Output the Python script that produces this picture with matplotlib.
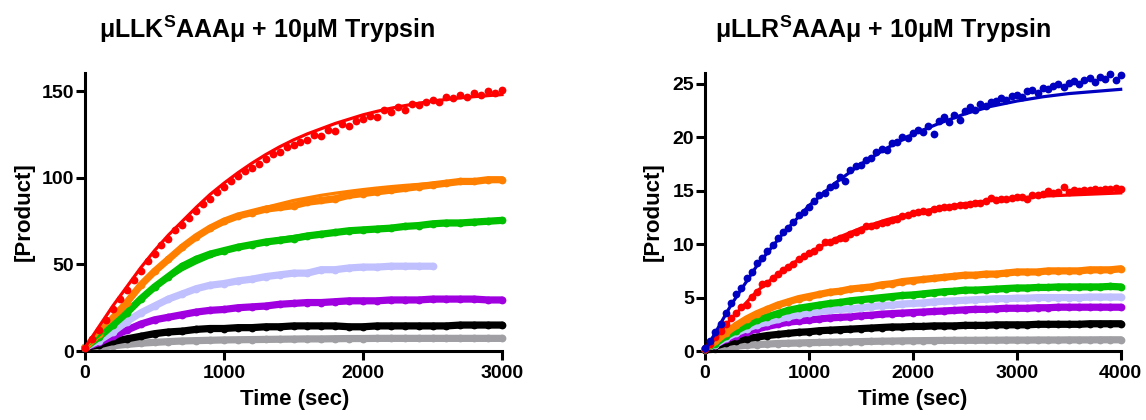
import matplotlib
matplotlib.use("Agg")
import matplotlib.pyplot as plt

plt.rcParams['font.family'] = ['Liberation Sans', 'DejaVu Sans']
plt.rcParams['font.weight'] = 'bold'
plt.rcParams['mathtext.fontset'] = 'custom'
plt.rcParams['mathtext.bf'] = 'Liberation Sans:bold'
plt.rcParams['mathtext.rm'] = 'Liberation Sans:bold'
plt.rcParams['mathtext.it'] = 'Liberation Sans:bold'

# ---------------- Left panel: muLLK^S AAAmu ----------------
left_title = r'$\mathbf{\mu LLK^{S}AAA\mu}$ + 10μM Trypsin'
left_t100 = list(range(0, 3001, 100))
left_t50 = list(range(0, 3001, 50))
left_t_lav = list(range(0, 2501, 100))

left_red = [2, 7, 12, 18, 24, 30, 35, 41, 46, 52, 56, 61, 65, 70, 73, 77, 81, 85, 88, 92,
            95, 98, 101, 104, 106, 108, 111, 114, 115, 118, 119, 121, 122, 125, 124, 128,
            127, 131, 130, 133, 134, 136, 135, 139, 138, 141, 139, 143, 142, 144, 145, 144,
            147, 146, 148, 147, 149, 148, 150, 149, 151]
left_red_fit = [2, 14, 26, 37, 48, 58, 67, 75, 83, 90.5, 97, 103, 108.5, 113.5, 118, 122,
                125.5, 128.5, 131.5, 134, 136.5, 138.5, 140.3, 141.8, 143.2, 144.4, 145.4,
                146.3, 147, 147.6, 148.2]

left_orange = [2, 10, 19, 28, 38, 46, 53, 60, 66, 71, 75, 78, 80, 82, 83, 84, 86, 87, 88,
               90, 91, 92, 93, 94, 95, 96, 97, 98, 98, 99, 99]
left_orange_fit = [2, 11, 20, 29, 38, 46, 53, 59.5, 65, 70, 74, 77.5, 80.5, 83, 85, 87,
                   88.5, 90, 91.2, 92.3, 93.3, 94.2, 95, 95.7, 96.3, 96.9, 97.4, 97.9, 98.3,
                   98.7, 99]

left_green = [2, 8, 15, 22, 30, 37, 43, 49, 53, 56, 58, 60, 61.5, 63, 64, 65, 66.5, 67.5,
              68.5, 69.5, 70, 70.5, 71, 72, 72.5, 73.5, 74, 74, 74.5, 75, 75.5]
left_green_fit = [2, 9, 16, 23, 30, 36.5, 42, 47, 51, 54.5, 57.5, 60, 62, 63.5, 65, 66.2,
                  67.3, 68.3, 69.2, 70, 70.7, 71.3, 71.9, 72.4, 72.9, 73.3, 73.7, 74, 74.3,
                  74.6, 74.8]

left_lav = [2, 6, 11, 17, 22, 26, 30, 33, 36, 38, 39, 40.5, 41.5, 43, 44, 45, 45, 47, 47,
            48, 48.5, 48.5, 49, 49, 49, 49]

left_purple = [2, 5, 8.5, 12, 15.5, 18, 19.5, 21, 22.5, 23.5, 24, 25, 25.5, 26, 27, 27.5,
               28, 28, 28.5, 29, 29, 29, 29.5, 29.5, 29.5, 30, 30, 30, 30, 29.5, 29.5]

left_black = [2, 3.5, 5.5, 7, 8.5, 10, 11, 11.5, 12.5, 13, 13, 13.5, 13.5, 14, 14, 14.5,
              14.5, 14.5, 14.5, 14, 14, 14.5, 14.5, 14.5, 14.5, 14.5, 14.5, 15, 15, 15, 15]

left_gray = [1.5, 2, 3, 3.8, 4.5, 5, 5.4, 5.8, 6, 6.2, 6.4, 6.5, 6.6, 6.7, 6.8, 6.9, 7, 7,
             7.1, 7.2, 7.2, 7.3, 7.3, 7.3, 7.3, 7.3, 7.3, 7.3, 7.3, 7.3, 7.3]

left_xticks = [0, 1000, 2000, 3000]
left_yticks = [0, 50, 100, 150]

# ---------------- Right panel: muLLR^S AAAmu ----------------
right_title = r'$\mathbf{\mu LLR^{S}AAA\mu}$ + 10μM Trypsin'
right_t100 = list(range(0, 4001, 100))
right_t50 = list(range(0, 4001, 50))
right_tfit = list(range(0, 4001, 250))

right_blue = [0.3, 0.9, 1.8, 2.5, 3.6, 4.5, 5.3, 5.9, 6.8, 7.4, 8.2, 8.7, 9.4, 9.9, 10.6,
              11.1, 11.5, 12.1, 12.7, 13.0, 13.5, 14.0, 14.6, 14.8, 15.4, 15.5, 16.3, 15.9,
              16.9, 17.3, 17.4, 17.9, 18.1, 18.6, 18.9, 18.8, 19.5, 19.6, 20.0, 19.9, 20.4,
              20.7, 20.5, 21.1, 20.3, 21.5, 21.9, 21.4, 22.1, 21.6, 22.5, 22.8, 22.6, 23.1,
              22.9, 23.3, 23.4, 23.7, 23.5, 23.9, 24.0, 23.8, 24.3, 24.4, 24.2, 24.6, 24.5,
              24.8, 25.0, 24.7, 25.1, 25.3, 25.0, 25.4, 25.6, 25.2, 25.7, 25.5, 25.9, 25.4, 25.8]
right_blue_fit = [0, 4.3, 8.0, 11.0, 13.6, 15.7, 17.5, 19.0, 20.3, 21.3, 22.2, 22.9, 23.4,
                  23.8, 24.1, 24.3, 24.5]

right_red = [0.2, 0.7, 1.3, 1.9, 2.5, 3.1, 3.6, 4.1, 4.3, 5.1, 5.5, 6.3, 6.4, 6.8, 7.2, 7.6,
             7.9, 8.1, 8.6, 8.9, 9.2, 9.4, 9.7, 10.2, 10.2, 10.4, 10.6, 10.6, 11.0, 11.1,
             11.3, 11.7, 11.7, 11.8, 12.0, 12.1, 12.3, 12.4, 12.6, 12.7, 12.9, 13.0, 13.1,
             13.0, 13.3, 13.4, 13.5, 13.5, 13.6, 13.7, 13.7, 13.8, 13.9, 13.9, 14.0, 14.3,
             14.1, 14.2, 14.2, 14.3, 14.4, 14.4, 14.2, 14.6, 14.6, 14.7, 15.0, 14.8, 14.9,
             15.4, 14.9, 15.1, 15.0, 15.1, 15.1, 15.2, 15.1, 15.2, 15.2, 15.3, 15.2]
right_red_fit = [0, 3.0, 5.6, 7.6, 9.2, 10.5, 11.5, 12.3, 12.9, 13.4, 13.8, 14.1, 14.3,
                 14.5, 14.6, 14.7, 14.8]

right_orange = [0.2, 0.9, 1.7, 2.4, 3.0, 3.5, 3.9, 4.3, 4.6, 4.9, 5.1, 5.3, 5.5, 5.6, 5.8,
                5.9, 6.0, 6.2, 6.3, 6.5, 6.6, 6.7, 6.8, 6.9, 7.0, 7.1, 7.1, 7.2, 7.2, 7.3,
                7.4, 7.4, 7.4, 7.5, 7.5, 7.5, 7.5, 7.6, 7.6, 7.6, 7.7]
right_green = [0.2, 0.7, 1.4, 1.9, 2.4, 2.9, 3.2, 3.5, 3.8, 4.0, 4.15, 4.3, 4.45, 4.55, 4.7,
               4.8, 4.9, 5.0, 5.1, 5.2, 5.25, 5.35, 5.45, 5.55, 5.6, 5.7, 5.7, 5.75, 5.8,
               5.85, 5.9, 5.9, 5.95, 5.95, 6.0, 6.0, 6.0, 6.0, 6.0, 6.05, 6.0]
right_lav = [0.2, 0.6, 1.2, 1.7, 2.1, 2.45, 2.7, 2.95, 3.2, 3.4, 3.55, 3.7, 3.8, 3.9, 3.95,
             4.05, 4.15, 4.25, 4.3, 4.4, 4.45, 4.5, 4.6, 4.65, 4.7, 4.75, 4.8, 4.85, 4.9,
             4.9, 4.95, 4.95, 5.0, 5.0, 5.0, 5.0, 5.0, 5.05, 5.05, 5.05, 5.05]
right_purple = [0.2, 0.6, 1.1, 1.45, 1.8, 2.05, 2.3, 2.5, 2.7, 2.8, 2.9, 3.0, 3.1, 3.15, 3.2,
                3.3, 3.35, 3.45, 3.5, 3.55, 3.6, 3.65, 3.7, 3.75, 3.8, 3.85, 3.9, 3.9, 3.95,
                4.0, 4.0, 4.0, 4.05, 4.05, 4.1, 4.1, 4.1, 4.1, 4.1, 4.1, 4.1]
right_black = [0.1, 0.45, 0.75, 0.95, 1.15, 1.3, 1.45, 1.55, 1.65, 1.75, 1.8, 1.9, 1.95,
               2.0, 2.05, 2.1, 2.15, 2.2, 2.25, 2.25, 2.3, 2.3, 2.35, 2.35, 2.35, 2.4, 2.4,
               2.4, 2.45, 2.45, 2.45, 2.45, 2.5, 2.5, 2.5, 2.5, 2.5, 2.55, 2.55, 2.55, 2.55]
right_gray = [0.05, 0.2, 0.35, 0.45, 0.55, 0.6, 0.65, 0.7, 0.72, 0.75, 0.78, 0.8, 0.82,
              0.84, 0.86, 0.88, 0.9, 0.92, 0.93, 0.95, 0.96, 0.97, 0.98, 0.99, 1.0, 1.0,
              1.0, 1.01, 1.01, 1.02, 1.02, 1.02, 1.03, 1.03, 1.03, 1.04, 1.04, 1.04, 1.05,
              1.05, 1.05]

right_xticks = [0, 1000, 2000, 3000, 4000]
right_yticks = [0, 5, 10, 15, 20, 25]

C = {'red': '#FF0000', 'orange': '#FF8000', 'green': '#00C000', 'lav': '#C0C0FF',
     'purple': '#A000E0', 'black': '#000000', 'gray': '#A0A0A4', 'blue': '#0000C0'}

W, H = 1146, 420
fig = plt.figure(figsize=(W / 100, H / 100), dpi=100)


def band(ax, t, v, col):
    ax.plot(t, v, '-', color=col, lw=5.2, solid_capstyle='round', clip_on=False, zorder=2)
    ax.plot(t, v, 'o', color=col, ms=5.6, mew=0, clip_on=False, zorder=2)


def dots(ax, t, v, col):
    ax.plot(t, v, 'o', color=col, ms=5.6, mew=0, clip_on=False, zorder=3)


def fit(ax, t, v, col):
    ax.plot(t, v, '-', color=col, lw=2.3, clip_on=False, zorder=3)


def style(ax, xlim, ylim, xt, yt):
    ax.set_xlim(*xlim)
    ax.set_ylim(*ylim)
    ax.set_xticks(xt)
    ax.set_yticks(yt)
    for s in ['top', 'right']:
        ax.spines[s].set_visible(False)
    for s in ['left', 'bottom']:
        ax.spines[s].set_linewidth(2.2)
    ax.tick_params(axis='both', direction='out', length=6.3, width=2.2, labelsize=14)
    ax.tick_params(axis='y', pad=1.5)
    ax.tick_params(axis='x', pad=4)
    for lab in ax.get_xticklabels() + ax.get_yticklabels():
        lab.set_fontweight('bold')


# Left axes
axL = fig.add_axes([85 / W, 1 - 351 / H, (502 - 85) / W, (351 - 73.3) / H])
band(axL, left_t100, left_gray, C['gray'])
band(axL, left_t100, left_black, C['black'])
band(axL, left_t100, left_purple, C['purple'])
band(axL, left_t_lav, left_lav, C['lav'])
band(axL, left_t100, left_green, C['green'])
fit(axL, left_t100, left_green_fit, C['green'])
band(axL, left_t100, left_orange, C['orange'])
fit(axL, left_t100, left_orange_fit, C['orange'])
dots(axL, left_t50, left_red, C['red'])
fit(axL, left_t100, left_red_fit, C['red'])
style(axL, (0, 3000), (0, 160.5), left_xticks, left_yticks)

# Right axes
axR = fig.add_axes([705 / W, 1 - 351 / H, (1120.7 - 705) / W, (351 - 73.3) / H])
band(axR, right_t100, right_gray, C['gray'])
band(axR, right_t100, right_black, C['black'])
band(axR, right_t100, right_purple, C['purple'])
band(axR, right_t100, right_lav, C['lav'])
band(axR, right_t100, right_green, C['green'])
band(axR, right_t100, right_orange, C['orange'])
dots(axR, right_t50, right_red, C['red'])
fit(axR, right_tfit, right_red_fit, C['red'])
dots(axR, right_t50, right_blue, C['blue'])
fit(axR, right_tfit, right_blue_fit, C['blue'])
style(axR, (0, 4000), (0, 26.0), right_xticks, right_yticks)

# Titles and labels
fig.text(267.5 / W, 1 - 29 / H, left_title, ha='center', va='center', fontsize=18,
         fontweight='bold')
fig.text(883 / W, 1 - 29 / H, right_title, ha='center', va='center', fontsize=18,
         fontweight='bold')
fig.text(24 / W, 1 - 212 / H, '[Product]', rotation=90, ha='center', va='center',
         fontsize=16, fontweight='bold')
fig.text(653 / W, 1 - 212 / H, '[Product]', rotation=90, ha='center', va='center',
         fontsize=16, fontweight='bold')
fig.text(295 / W, 1 - 400 / H, 'Time (sec)', ha='center', va='center',
         fontsize=16, fontweight='bold')
fig.text(913 / W, 1 - 400 / H, 'Time (sec)', ha='center', va='center',
         fontsize=16, fontweight='bold')

fig.savefig('out.png', dpi=100)
